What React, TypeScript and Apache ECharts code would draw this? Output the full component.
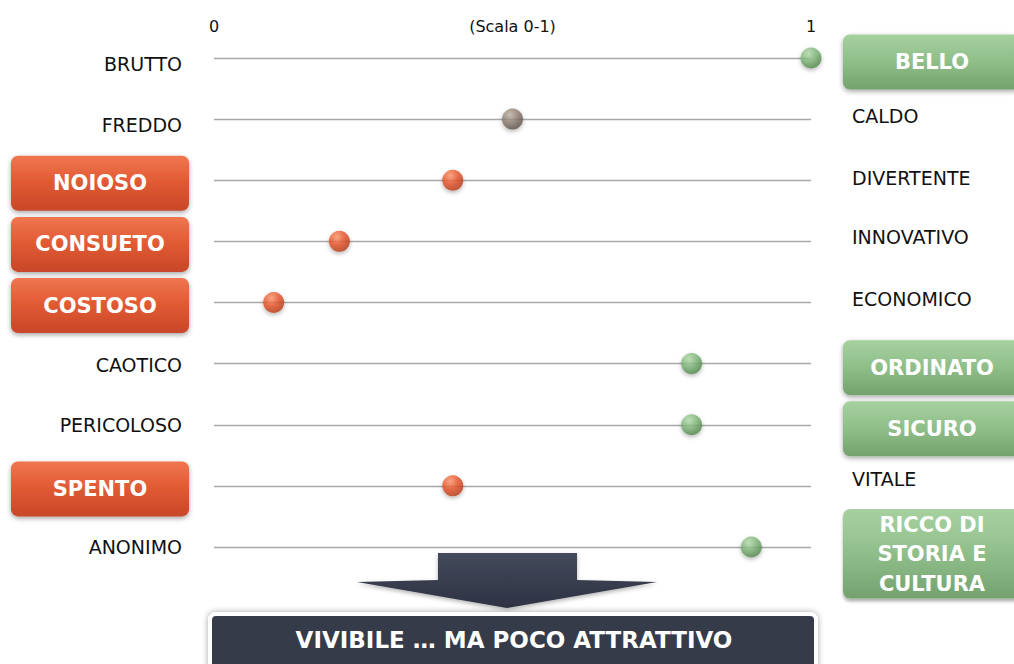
import React, { useEffect, useRef } from 'react';
import * as echarts from 'echarts';

// ---- data ----
const leftLabels = ['BRUTTO', 'FREDDO', 'NOIOSO', 'CONSUETO', 'COSTOSO', 'CAOTICO', 'PERICOLOSO', 'SPENTO', 'ANONIMO'];
const rightLabels = ['BELLO', 'CALDO', 'DIVERTENTE', 'INNOVATIVO', 'ECONOMICO', 'ORDINATO', 'SICURO', 'VITALE', 'RICCO DI\nSTORIA E\nCULTURA'];
const scores = [1.0, 0.5, 0.4, 0.21, 0.1, 0.8, 0.8, 0.4, 0.9];
const xTicks = [0, 0.5, 1];
const xTickLabels = ['0', '(Scala 0-1)', '1'];
const verdict = 'VIVIBILE … MA POCO ATTRATTIVO';

// ---- layout tweaks (vertical nudge of plain labels, px; + = down) ----
const leftLabelNudge = [6, 6, 0, 0, 0, 1, 0, 0, 0];
const rightLabelNudge = [0, -3, -2, -4, -4, 0, 0, -7, 0];

const FONT = "'DejaVu Sans', sans-serif";

const lg = (stops: [number, string][]) =>
  new echarts.graphic.LinearGradient(0, 0, 0, 1, stops.map(([offset, color]) => ({ offset, color })));
const rg = (c0: string, c1: string, c2: string) =>
  new echarts.graphic.RadialGradient(0.38, 0.3, 0.72, [
    { offset: 0, color: c0 },
    { offset: 0.5, color: c1 },
    { offset: 1, color: c2 },
  ]);

const dotColors: Record<string, [string, string, string]> = {
  good: ['#b8dfb0', '#80b67a', '#4f8449'],
  bad: ['#ff9a72', '#e8542a', '#b63a18'],
  neutral: ['#c4b6a8', '#8f8074', '#5c4f44'],
};
const tone = (v: number) => (v > 0.5 ? 'good' : v < 0.5 ? 'bad' : 'neutral');

const boxBase = {
  width: 178,
  align: 'center',
  color: '#ffffff',
  fontFamily: FONT,
  fontWeight: 'bold',
  fontSize: 21,
};
const boxShadow = { shadowBlur: 5, shadowOffsetY: 2, shadowColor: 'rgba(0,0,0,0.35)' };
const segShadow = { shadowBlur: 3, shadowOffsetY: 3, shadowColor: 'rgba(0,0,0,0.3)' };

const plainStyle = (nudge: number, side: 'l' | 'r') => ({
  fontFamily: FONT,
  fontSize: 19,
  color: '#111111',
  padding: [Math.max(2 * nudge, 0), side === 'l' ? 7 : 0, Math.max(-2 * nudge, 0), side === 'r' ? 9 : 0],
});

const rich: any = {
  gapL: { fontSize: 1, height: 6, lineHeight: 6 },
  gapR: { fontSize: 1, height: 8, lineHeight: 8 },
  gapM: { fontSize: 1, height: 14, lineHeight: 14 },
  red: {
    ...boxBase, ...boxShadow, height: 55, lineHeight: 55, borderRadius: 7,
    backgroundColor: lg([[0, '#f07650'], [0.5, '#e05932'], [1, '#c8472a']]),
  },
  green: {
    ...boxBase, ...boxShadow, height: 55, lineHeight: 55, borderRadius: 7,
    backgroundColor: lg([[0, '#a6d19f'], [0.5, '#8fbe89'], [1, '#74a26e']]),
  },
  gTop: {
    ...boxBase, ...segShadow, height: 31, lineHeight: 30, borderRadius: [7, 7, 0, 0],
    backgroundColor: lg([[0, '#a6d19f'], [1, '#98c592']]),
  },
  gMid: {
    ...boxBase, ...segShadow, height: 30, lineHeight: 29, borderRadius: 0,
    backgroundColor: lg([[0, '#98c592'], [1, '#87b581']]),
  },
  gBot: {
    ...boxBase, ...segShadow, height: 30, lineHeight: 30, borderRadius: [0, 0, 7, 7],
    backgroundColor: lg([[0, '#87b581'], [1, '#74a26e']]),
  },
};
leftLabels.forEach((_, i) => { rich['lp' + i] = plainStyle(leftLabelNudge[i], 'l'); });
rightLabels.forEach((_, i) => { rich['rp' + i] = plainStyle(rightLabelNudge[i], 'r'); });

function leftFormatter(value: string, index: number) {
  return tone(scores[index]) === 'bad' ? `{gapL| }\n{red|${value}}` : `{lp${index}|${value}}`;
}
function rightFormatter(value: string, index: number) {
  if (tone(scores[index]) !== 'good') return `{rp${index}|${value}}`;
  const lines = value.split('\n');
  if (lines.length === 1) return `{gapR| }\n{green|${value}}`;
  return `{gapM| }\n` + lines.map((l, i) => `{${i === 0 ? 'gTop' : i === lines.length - 1 ? 'gBot' : 'gMid'}|${l}}`).join('\n');
}

export default function App() {
  const ref = useRef<HTMLDivElement>(null);
  useEffect(() => {
    if (!ref.current) return;
    const chart = echarts.init(ref.current, undefined, { renderer: 'svg' });
    const option: any = {
      animation: false,
      backgroundColor: '#ffffff',
      grid: { left: 214, right: 203, top: 58, bottom: 117, containLabel: false, outerBoundsMode: 'none' },
      xAxis: {
        type: 'value',
        position: 'top',
        min: 0,
        max: 1,
        interval: 0.5,
        axisLine: { show: false },
        axisTick: { show: false },
        splitLine: { show: false },
        axisLabel: {
          margin: 24,
          fontFamily: FONT,
          fontSize: 16,
          color: '#111111',
          formatter: (v: number) => {
            const i = xTicks.findIndex((t) => Math.abs(t - v) < 1e-9);
            return i >= 0 ? xTickLabels[i] : '';
          },
        },
      },
      yAxis: [
        {
          type: 'category',
          data: leftLabels,
          inverse: true,
          boundaryGap: false,
          position: 'left',
          axisLine: { show: false },
          axisTick: { show: false },
          splitLine: { show: true, interval: 0, lineStyle: { color: '#a9a9a9', width: 1.4 } },
          axisLabel: { interval: 0, margin: 25, formatter: leftFormatter, rich },
        },
        {
          type: 'category',
          data: rightLabels,
          inverse: true,
          boundaryGap: false,
          position: 'right',
          axisLine: { show: false },
          axisTick: { show: false },
          splitLine: { show: false },
          axisLabel: { interval: 0, margin: 32, align: 'left', formatter: rightFormatter, rich },
        },
      ],
      series: [
        {
          type: 'scatter',
          yAxisIndex: 0,
          clip: false,
          symbol: 'circle',
          symbolSize: 21,
          z: 5,
          data: scores.map((v, i) => {
            const c = dotColors[tone(v)];
            return {
              value: [v, i],
              itemStyle: {
                color: rg(c[0], c[1], c[2]),
                shadowBlur: 4,
                shadowOffsetY: 2,
                shadowColor: 'rgba(0,0,0,0.35)',
              },
            };
          }),
        },
      ],
      graphic: [
        {
          type: 'polygon',
          shape: {
            points: [
              [438, 553], [577, 553], [577, 580], [657, 582], [507, 608], [357, 582], [438, 580],
            ],
          },
          style: {
            fill: new echarts.graphic.LinearGradient(0, 0, 0, 1, [
              { offset: 0, color: '#444a5c' },
              { offset: 1, color: '#2e3242' },
            ]),
            shadowBlur: 4,
            shadowOffsetY: 2,
            shadowColor: 'rgba(0,0,0,0.3)',
          },
        },
        {
          type: 'rect',
          shape: { x: 210, y: 614, width: 606, height: 64, r: 6 },
          style: {
            fill: '#353a4a',
            stroke: '#ffffff',
            lineWidth: 4,
            shadowBlur: 6,
            shadowColor: 'rgba(0,0,0,0.35)',
          },
        },
        {
          type: 'text',
          x: 514,
          y: 640,
          style: {
            text: verdict,
            fill: '#ffffff',
            font: `bold 23px ${FONT}`,
            align: 'center',
            verticalAlign: 'middle',
          },
        },
      ],
    };
    chart.setOption(option);
    return () => chart.dispose();
  }, []);
  return (
    <div
      ref={ref}
      style={{ position: 'fixed', left: 0, top: 0, width: 1014, height: 664, background: '#ffffff' }}
    />
  );
}
